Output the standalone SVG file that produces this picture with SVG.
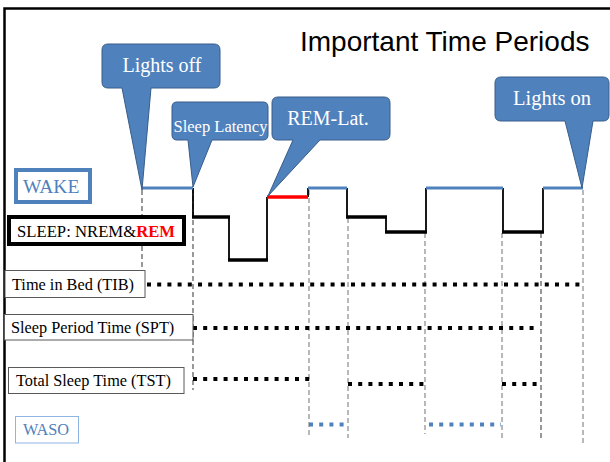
<svg xmlns="http://www.w3.org/2000/svg" width="610" height="462" viewBox="0 0 610 462">
<style>
.serif{font-family:"Liberation Serif","Times New Roman",serif}
.callout{fill:#4F81BD;stroke:#385D8A;stroke-width:1}
.ctext{fill:#ffffff;text-anchor:middle}
.dash{stroke:#8a8a8a;stroke-width:1.2;stroke-dasharray:5 3;fill:none}
.dashd{stroke:#555;stroke-width:1.2;stroke-dasharray:5 3;fill:none}
.dot{stroke:#000;stroke-width:4;stroke-dasharray:4 6.2;fill:none}
.dotb{stroke:#4F81BD;stroke-width:4;stroke-dasharray:4 6.2;fill:none}
.wake{stroke:#4F81BD;stroke-width:3;fill:none}
.nrem{stroke:#000;stroke-width:3.5;fill:none}
.rem{stroke:#FF0000;stroke-width:3.5;fill:none}
.step{stroke:#000;stroke-width:1.8;fill:none}
.lbl{fill:#fff;stroke:#595959;stroke-width:1}
</style>
<rect width="610" height="462" fill="#fff"/>
<rect id="frame" x="4.5" y="8.5" width="620" height="470" fill="none" stroke="#000" stroke-width="2.5"/>
<text id="title" x="300" y="51" font-family="'Liberation Sans',Arial,sans-serif" font-size="28" fill="#000">Important Time Periods</text>

<g id="connectors">
  <g id="guides">
    <line class="dashd" x1="142" y1="190" x2="142" y2="285"/>
    <line class="dashd" x1="193" y1="188" x2="193" y2="390"/>
    <line class="dash" x1="309" y1="190" x2="309" y2="438"/>
    <line class="dash" x1="348" y1="218" x2="348" y2="438"/>
    <line class="dash" x1="425" y1="233" x2="425" y2="434"/>
    <line class="dash" x1="502" y1="233" x2="502" y2="439"/>
    <line class="dashd" x1="541" y1="233" x2="541" y2="439"/>
    <line class="dash" x1="583" y1="190" x2="583" y2="443"/>
  </g>
  <g id="periods">
    <line class="dot" x1="147" y1="284.5" x2="580" y2="284.5"/>
    <line class="dot" x1="193" y1="328" x2="538" y2="328"/>
    <line class="dot" x1="193" y1="379" x2="311" y2="379"/>
    <line class="dot" x1="348" y1="384" x2="428" y2="384"/>
    <line class="dot" x1="502" y1="384" x2="540" y2="384"/>
    <line class="dotb" x1="309" y1="424.5" x2="347" y2="424.5"/>
    <line class="dotb" x1="429" y1="424.5" x2="501" y2="424.5"/>
  </g>
  <g id="hypnogram">
    <line class="step" x1="193" y1="188" x2="193" y2="217"/>
    <line class="step" x1="229" y1="217" x2="229" y2="260"/>
    <line class="step" x1="267" y1="260" x2="267" y2="197"/>
    <line class="step" x1="308" y1="197" x2="308" y2="188"/>
    <line class="step" x1="347" y1="188" x2="347" y2="217"/>
    <line class="step" x1="386" y1="217" x2="386" y2="232"/>
    <line class="step" x1="426" y1="232" x2="426" y2="188"/>
    <line class="step" x1="503" y1="188" x2="503" y2="232"/>
    <line class="step" x1="543" y1="232" x2="543" y2="188"/>
    <line class="wake" x1="142" y1="188" x2="193" y2="188"/>
    <line class="nrem" x1="192" y1="217" x2="230" y2="217"/>
    <line class="nrem" x1="228" y1="260" x2="268" y2="260"/>
    <line class="rem" x1="267" y1="197" x2="308" y2="197"/>
    <line class="wake" x1="308" y1="188" x2="347" y2="188"/>
    <line class="nrem" x1="346" y1="217" x2="387" y2="217"/>
    <line class="nrem" x1="385" y1="232" x2="427" y2="232"/>
    <line class="wake" x1="426" y1="188" x2="503" y2="188"/>
    <line class="nrem" x1="502" y1="232" x2="544" y2="232"/>
    <line class="wake" x1="543" y1="188" x2="583" y2="188"/>
  </g>
</g>

<g id="wake-label">
  <rect x="16" y="170" width="74" height="32" fill="#fff" stroke="#4F81BD" stroke-width="4"/>
  <text class="serif" x="23" y="193" font-size="19.5" fill="#4F81BD">WAKE</text>
</g>
<g id="sleep-label">
  <rect x="9" y="217" width="175" height="27" fill="#fff" stroke="#000" stroke-width="4"/>
  <text class="serif" x="17" y="237" font-size="16.7" fill="#000">SLEEP: NREM&amp;<tspan fill="#FF0000" font-weight="bold">REM</tspan></text>
</g>
<g id="tib-label">
  <rect class="lbl" x="5" y="270.5" width="140" height="27"/>
  <text class="serif" x="12" y="289.5" font-size="16.3" fill="#000">Time in Bed (TIB)</text>
</g>
<g id="spt-label">
  <rect class="lbl" x="4.5" y="314.5" width="188.5" height="25.5"/>
  <text class="serif" x="11" y="333" font-size="16.3" fill="#000">Sleep Period Time (SPT)</text>
</g>
<g id="tst-label">
  <rect class="lbl" x="8.5" y="367.5" width="175.5" height="26"/>
  <text class="serif" x="16" y="386" font-size="16.3" fill="#000">Total Sleep Time (TST)</text>
</g>
<g id="waso-label">
  <rect x="15.5" y="416.5" width="63" height="26.5" fill="#fff" stroke="#8EB4E3" stroke-width="1"/>
  <text class="serif" x="23" y="435" font-size="16.3" fill="#4F81BD">WASO</text>
</g>

<g id="lights-off">
  <path class="callout" d="M108,44 H214 Q220,44 220,50 V82 Q220,88 214,88 H151 L142,190 L122,88 H108 Q102,88 102,82 V50 Q102,44 108,44 Z"/>
  <text class="serif ctext" x="162" y="72" font-size="20">Lights off</text>
</g>
<g id="sleep-latency">
  <path class="callout" d="M177,102 H263 Q268,102 268,107 V135 Q268,140 263,140 H212 L193,187 L188,140 H177 Q172,140 172,135 V107 Q172,102 177,102 Z"/>
  <text class="serif ctext" x="220.5" y="132" font-size="16.5">Sleep Latency</text>
</g>
<g id="rem-latency">
  <path class="callout" d="M278,97 H384 Q390,97 390,103 V134 Q390,140 384,140 H320 L268,196 L293,140 H278 Q272,140 272,134 V103 Q272,97 278,97 Z"/>
  <text class="serif ctext" x="328" y="125" font-size="20">REM-Lat.</text>
</g>
<g id="lights-on">
  <path class="callout" d="M501,77 H603 Q609,77 609,83 V115 Q609,121 603,121 H593 L582,188 L565,121 H501 Q495,121 495,115 V83 Q495,77 501,77 Z"/>
  <text class="serif ctext" x="552" y="105" font-size="20.5">Lights on</text>
</g>
</svg>
